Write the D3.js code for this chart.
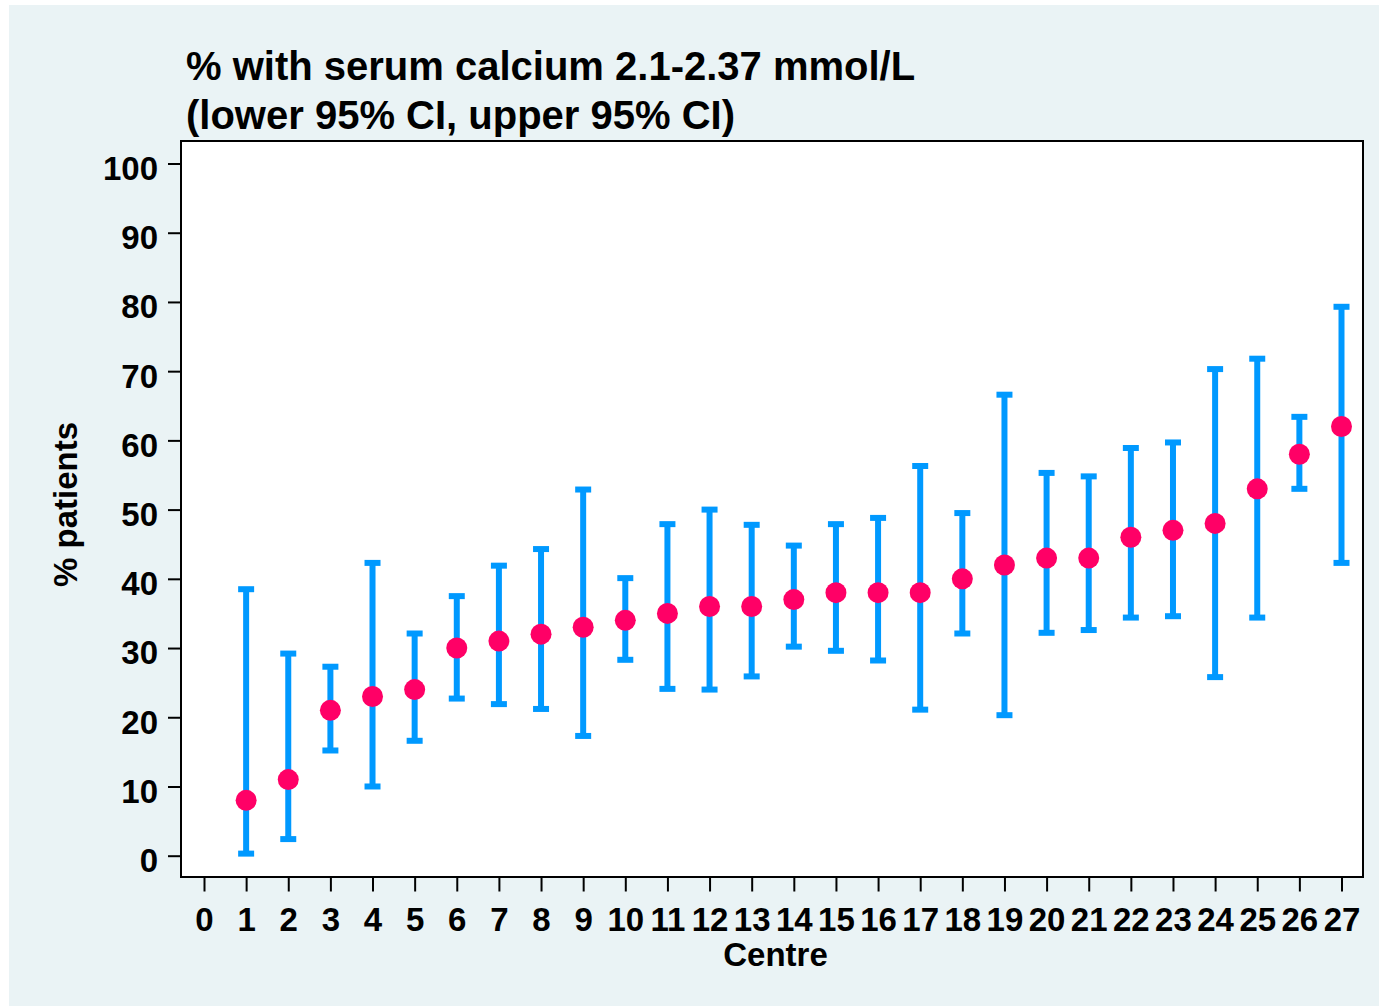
<!DOCTYPE html>
<html>
<head>
<meta charset="utf-8">
<script src="https://cdn.jsdelivr.net/npm/d3@7"></script>
<style>
  body { margin: 0; background: #fff; }
  svg { display: block; font-family: "Liberation Sans", Arial, sans-serif; font-weight: bold; }
</style>
</head>
<body>
<div id="vis"></div>
<script>
const width = 1381;
const height = 1007;

// centre number, % in range, lower and upper 95% CI
const centres = d3.range(1, 28);
const pct   = [8, 11, 21, 23, 24, 30, 31, 32, 33, 34, 35, 36, 36, 37, 38, 38, 38, 40, 42, 43, 43, 46, 47, 48, 53, 58, 62];
const lower = [0.3, 2.4, 15.2, 10.0, 16.6, 22.7, 21.9, 21.2, 17.3, 28.3, 24.1, 24.0, 25.9, 30.2, 29.6, 28.2, 21.1, 32.1, 20.3, 32.2, 32.6, 34.4, 34.6, 25.8, 34.4, 53.0, 42.3];
const upper = [38.5, 29.2, 27.3, 42.3, 32.1, 37.5, 41.9, 44.3, 52.9, 40.1, 47.9, 50.0, 47.8, 44.8, 47.9, 48.8, 56.3, 49.5, 66.6, 55.3, 54.8, 58.9, 59.7, 70.3, 71.8, 63.4, 79.3];
const yTicks = d3.range(0, 101, 10);
const xTicks = d3.range(0, 28);

const plot = { left: 181, top: 141, right: 1363, bottom: 877 };

const svg = d3.select("#vis").append("svg")
  .attr("width", width)
  .attr("height", height);

// light background panel
svg.append("rect")
  .attr("x", 9).attr("y", 5)
  .attr("width", 1370).attr("height", 1001)
  .attr("fill", "#eaf3f5");

svg.append("rect")
  .attr("x", plot.left).attr("y", plot.top)
  .attr("width", plot.right - plot.left).attr("height", plot.bottom - plot.top)
  .attr("fill", "#fff");

const x = d3.scaleLinear().domain([0, 27]).range([204, 1341.5]);
const y = d3.scaleLinear().domain([0, 100]).range([855.7, 163.5]);

// axes
const yAxis = svg.append("g")
  .attr("transform", `translate(${plot.left},0)`)
  .call(d3.axisLeft(y).tickValues(yTicks).tickSize(13).tickPadding(10));
yAxis.select(".domain").remove();
yAxis.selectAll("line").attr("stroke", "#000").attr("stroke-width", 2);
yAxis.selectAll("text")
  .attr("font-size", 33).attr("font-family", null).attr("fill", "#000")
  .attr("dy", "0.48em");

const xAxis = svg.append("g")
  .attr("transform", `translate(0,${plot.bottom})`)
  .call(d3.axisBottom(x).tickValues(xTicks).tickSize(14.5).tickPadding(16.5));
xAxis.select(".domain").remove();
xAxis.selectAll("line").attr("stroke", "#000").attr("stroke-width", 2);
xAxis.selectAll("text")
  .attr("font-size", 33).attr("font-family", null).attr("fill", "#000");

// error bars
const bars = svg.append("g");
centres.forEach(function (c, i) {
  bars.append("line")
    .attr("x1", x(c)).attr("x2", x(c))
    .attr("y1", y(lower[i])).attr("y2", y(upper[i]))
    .attr("stroke", "#0099ff").attr("stroke-width", 6);
  [lower[i], upper[i]].forEach(function (v) {
    bars.append("line")
      .attr("x1", x(c) - 8).attr("x2", x(c) + 8)
      .attr("y1", y(v)).attr("y2", y(v))
      .attr("stroke", "#0099ff").attr("stroke-width", 6);
  });
});

svg.append("g").selectAll("circle")
  .data(centres).enter().append("circle")
  .attr("cx", d => x(d))
  .attr("cy", (d, i) => y(pct[i]))
  .attr("r", 10.5)
  .attr("fill", "#ff0066");

// plot frame
svg.append("rect")
  .attr("x", plot.left).attr("y", plot.top)
  .attr("width", plot.right - plot.left).attr("height", plot.bottom - plot.top)
  .attr("fill", "none").attr("stroke", "#000").attr("stroke-width", 2);

// titles
svg.append("text")
  .attr("x", 186).attr("y", 80)
  .attr("font-size", 40)
  .text("% with serum calcium 2.1-2.37 mmol/L");
svg.append("text")
  .attr("x", 186).attr("y", 128.5)
  .attr("font-size", 40)
  .text("(lower 95% CI, upper 95% CI)");

svg.append("text")
  .attr("x", 775.5).attr("y", 966)
  .attr("text-anchor", "middle")
  .attr("font-size", 33)
  .text("Centre");

svg.append("text")
  .attr("transform", "translate(77,504.5) rotate(-90)")
  .attr("text-anchor", "middle")
  .attr("font-size", 33)
  .text("% patients");
</script>
</body>
</html>
